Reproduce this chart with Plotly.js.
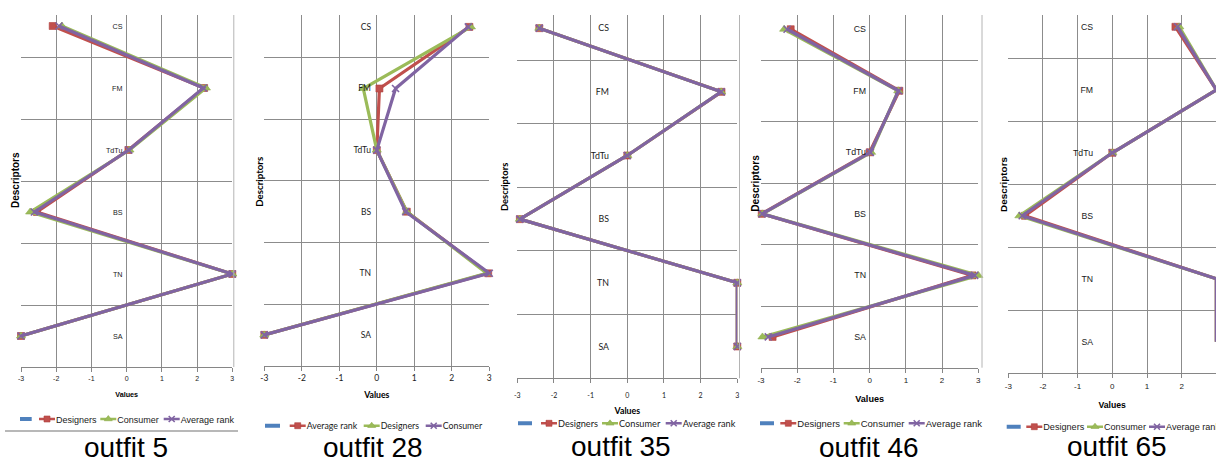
<!DOCTYPE html>
<html>
<head>
<meta charset="utf-8">
<script src="https://cdn.plot.ly/plotly-3.0.1.min.js"></script>
<style>html,body{margin:0;padding:0;background:#fff;}#chart{width:1216px;height:462px;}</style>
</head>
<body>
<div id="chart"></div>
<script>
// ---------- data ----------
const descriptors = ["CS", "FM", "TdTu", "BS", "TN", "SA"];
const outfitTitles = ["outfit 5", "outfit 28", "outfit 35", "outfit 46", "outfit 65"];
const xTickVals = [-3, -2, -1, 0, 1, 2, 3];
const axisTitleX = "Values";
const axisTitleY = "Descriptors";

// outfit 5 (red, green, purple)
const outfit5Names = ["Designers", "Consumer", "Average rank"];
const outfit5Designers = [-2.1, 2.2, 0.05, -2.55, 3, -3];
const outfit5Consumer = [-1.84, 2.25, 0.08, -2.74, 3, -3];
const outfit5AverageRank = [-1.92, 2.18, 0.06, -2.62, 3, -3];

// outfit 28 (red = Average rank, green = Designers, purple = Consumer)
const outfit28Names = ["Average rank", "Designers", "Consumer"];
const outfit28AverageRank = [2.47, 0.07, 0, 0.8, 2.97, -3];
const outfit28Designers = [2.51, -0.36, 0, 0.8, 2.93, -3];
const outfit28Consumer = [2.44, 0.5, 0, 0.77, 3, -3];

// outfit 35
const outfit35Names = ["Designers", "Consumer", "Average rank"];
const outfit35Designers = [-2.4, 2.57, 0, -2.93, 3, 3];
const outfit35Consumer = [-2.4, 2.56, 0, -2.93, 3, 3];
const outfit35AverageRank = [-2.4, 2.56, 0, -2.93, 3, 3];

// outfit 46
const outfit46Names = ["Designers", "Consumer", "Average rank"];
const outfit46Designers = [-2.18, 0.82, 0, -2.98, 2.84, -2.68];
const outfit46Consumer = [-2.36, 0.79, 0.04, -2.96, 3, -2.96];
const outfit46AverageRank = [-2.28, 0.8, 0.02, -2.97, 2.9, -2.8];

// outfit 65
const outfit65Names = ["Designers", "Consumer", "Average rank"];
const outfit65Designers = [1.82, 3, 0, -2.52, 3, 3];
const outfit65Consumer = [1.93, 3, 0, -2.68, 3, 3];
const outfit65AverageRank = [1.88, 3, 0, -2.6, 3, 3];

const panelNames = [outfit5Names, outfit28Names, outfit35Names, outfit46Names, outfit65Names];
const panelSeries = [
  [outfit5Designers, outfit5Consumer, outfit5AverageRank],
  [outfit28AverageRank, outfit28Designers, outfit28Consumer],
  [outfit35Designers, outfit35Consumer, outfit35AverageRank],
  [outfit46Designers, outfit46Consumer, outfit46AverageRank],
  [outfit65Designers, outfit65Consumer, outfit65AverageRank]
];

// ---------- styles / layout geometry ----------
const W = 1216, H = 462;
const fx = px => px / W;
const fy = py => 1 - py / H;
const ARIAL = '"Liberation Sans", Arial, sans-serif';
const CALIBRI = 'Lato, "Liberation Sans", sans-serif';
const GRID = '#8c8c8c';
const TXT = '#1a1a1a';
const BLUE = '#4F81BD';

const slotStyle = [
  {color: '#C0504D', symbol: 'square', size: 7, lineColor: '#B0403D', lw: 0.6},
  {color: '#9BBB59', symbol: 'triangle-up', size: 8, lineColor: '#8DAD4C', lw: 0.6},
  {color: '#8064A2', symbol: 'x-thin', size: 7, lineColor: '#8064A2', lw: 1.6}
];

// tickStand: integer tick-label standoff (px); valAdj: axis-title correction (px)
const geo = [
  {x0: 21, x1: 232.3, yB: 367, band: 62, top: 15, fam: ARIAL, tick: 7, cat: 7.2, catR: 120.5, val: 7.2, desc: 10,
   descX: 15.5, descY: 180.5, tickC: 379, valC: 394, legY: 419, leg: 9, blue: [20, 31.7], T: [56, 117.3, 180.7],
   capX: 126.3, capY: 447, xmax: 3, tickStand: 1, valAdj: 2.5, border: 233.8},
  {x0: 264.3, x1: 489.3, yB: 365.7, band: 61.6, top: 15, fam: CALIBRI, tick: 8.5, cat: 8.5, catR: 369, val: 8.7, desc: 9.7,
   descX: 259, descY: 181.7, tickC: 382, valC: 401, legY: 425.7, leg: 8.8, blue: [265, 280], T: [306.7, 380.7, 442.7],
   capX: 373, capY: 447.5, xmax: 3, tickStand: 0, valAdj: -1, border: null},
  {x0: 517.3, x1: 737.3, yB: 378.3, band: 63.66, top: 15, fam: CALIBRI, tick: 7, cat: 8.8, catR: 607, val: 8.8, desc: 9.4,
   descX: 504.5, descY: 187.5, tickC: 393, valC: 411, legY: 423.3, leg: 9.2, blue: [518, 532], T: [558, 619, 682.7],
   capX: 620.5, capY: 446, xmax: 3, tickStand: 6, valAdj: 0, border: 739.5},
  {x0: 761, x1: 978.3, yB: 367.7, band: 61.54, top: 15, fam: ARIAL, tick: 8, cat: 8.8, catR: 864, val: 9.1, desc: 10.2,
   descX: 755.5, descY: 183.3, tickC: 382.5, valC: 399, legY: 423.3, leg: 9.5, blue: [760, 774], T: [797.3, 860.7, 925.7],
   capX: 868.7, capY: 447.3, xmax: 3, tickStand: 1, valAdj: 3, border: 982},
  {x0: 1008.3, x1: 1216, yB: 373.3, band: 63, top: 15, fam: ARIAL, tick: 8, cat: 8.7, catR: 1091, val: 8.7, desc: 9.9,
   descX: 1002.7, descY: 184.2, tickC: 387, valC: 403, legY: 426.7, leg: 9.1, blue: [1006.7, 1020.7], T: [1043.3, 1104, 1166],
   capX: 1116.7, capY: 446.7, xmax: 2.99, tickStand: 1, valAdj: 4, border: null}
];

const traces = [];
const layout = {
  width: W, height: H,
  margin: {l: 0, r: 0, t: 0, b: 0, autoexpand: false},
  paper_bgcolor: '#fff', plot_bgcolor: 'rgba(0,0,0,0)',
  showlegend: true, hovermode: false,
  font: {family: ARIAL, color: TXT},
  annotations: [], shapes: []
};

let legendCount = 0;
function newLegend(xPx, yPx, font) {
  legendCount++;
  const id = legendCount === 1 ? 'legend' : 'legend' + legendCount;
  layout[id] = {
    x: fx(xPx), xanchor: 'left', y: fy(yPx), yanchor: 'middle',
    orientation: 'h', bgcolor: 'rgba(0,0,0,0)', borderwidth: 0, font: font,
    itemclick: false, itemdoubleclick: false
  };
  return id;
}

geo.forEach((g, k) => {
  const n = k + 1;
  const xa = 'x' + (n === 1 ? '' : n), ya = 'y' + (n === 1 ? '' : n);
  const xKey = 'xaxis' + (n === 1 ? '' : n), yKey = 'yaxis' + (n === 1 ? '' : n);
  const yTopIdx = 5.5 - (g.yB - g.top) / g.band;

  layout[xKey] = {
    domain: [fx(g.x0), Math.min(1, fx(g.x1))], anchor: ya, range: [-3, g.xmax],
    tickmode: 'array', tickvals: xTickVals, ticktext: xTickVals.map(String),
    ticks: 'outside', ticklen: 4, tickcolor: '#868686', tickwidth: 1,
    showline: true, linecolor: '#868686', linewidth: 1,
    showgrid: true, gridcolor: GRID, gridwidth: 1, zeroline: false,
    tickfont: {family: g.fam, size: g.tick, color: TXT},
    ticklabelstandoff: g.tickStand,
    title: {text: axisTitleX, font: {family: g.fam, size: g.val, color: '#000', weight: 'bold'},
            standoff: (g.valC - g.tickC) - g.tick / 2 - g.val / 2 + g.valAdj},
    fixedrange: true
  };
  layout[yKey] = {
    domain: [fy(g.yB), fy(g.top)], anchor: 'free', position: fx(g.catR + 2),
    type: 'category', categoryorder: 'array', categoryarray: descriptors,
    range: [5.5, yTopIdx], tickson: 'boundaries', ticks: '',
    showline: false, showgrid: true, gridcolor: GRID, gridwidth: 1, zeroline: false,
    tickfont: {family: g.fam, size: g.cat, color: TXT}, fixedrange: true
  };

  // data series
  panelSeries[k].forEach((vals, s) => {
    const st = slotStyle[s];
    traces.push({
      type: 'scatter', mode: 'lines+markers', xaxis: xa, yaxis: ya,
      x: vals, y: descriptors, name: panelNames[k][s], showlegend: false, cliponaxis: false,
      line: {color: st.color, width: 3.2},
      marker: {symbol: st.symbol, size: st.size, color: st.color, line: {color: st.lineColor, width: st.lw}}
    });
  });

  // legend: blue empty series key
  const legFont = {family: g.fam, size: g.leg, color: TXT};
  const blueId = newLegend(g.blue[0] - 5, g.legY, legFont);
  traces.push({
    type: 'scatter', mode: 'lines', xaxis: xa, yaxis: ya, x: [null], y: [null], name: '',
    showlegend: true, legend: blueId, hoverinfo: 'skip',
    line: {color: BLUE, width: 4, dash: (g.blue[1] - g.blue[0]).toFixed(1) + 'px,200px'}
  });
  // series keys + labels
  panelNames[k].forEach((nm, s) => {
    const st = slotStyle[s];
    const T = g.T[s];
    const keyId = newLegend(T - 29, g.legY, legFont);
    traces.push({
      type: 'scatter', mode: 'lines+markers', xaxis: xa, yaxis: ya, x: [null], y: [null], name: '',
      showlegend: true, legend: keyId, hoverinfo: 'skip',
      line: {color: st.color, width: 2.5, dash: '0px,7px,16px,200px'},
      marker: {symbol: st.symbol, size: st.size - 1, color: st.color, line: {color: st.lineColor, width: st.lw}}
    });
    const labId = newLegend(T - 40, g.legY, legFont);
    traces.push({
      type: 'scatter', mode: 'lines', xaxis: xa, yaxis: ya, x: [null], y: [null], name: nm,
      showlegend: true, legend: labId, hoverinfo: 'skip',
      line: {color: 'rgba(0,0,0,0)', width: 0}
    });
  });

  // y-axis title
  layout.annotations.push({
    xref: 'paper', yref: 'paper', x: fx(g.descX), y: fy(g.descY), xanchor: 'center', yanchor: 'middle',
    text: axisTitleY, textangle: -90, showarrow: false,
    font: {family: g.fam, size: g.desc, color: '#000', weight: 'bold'}
  });
  // caption
  layout.annotations.push({
    xref: 'paper', yref: 'paper', x: fx(g.capX), y: fy(g.capY), xanchor: 'center', yanchor: 'middle',
    text: outfitTitles[k], showarrow: false,
    font: {family: ARIAL, size: 28, color: '#000'}
  });
  // plot-area right border
  if (g.border) {
    layout.shapes.push({type: 'line', xref: 'paper', yref: 'paper', x0: fx(g.border), x1: fx(g.border),
      y0: fy(g.yB), y1: fy(g.top), line: {color: '#b4b4b4', width: 1}});
  }
});

// separator under first chart
layout.shapes.push({type: 'line', xref: 'paper', yref: 'paper', x0: fx(5), x1: fx(238), y0: fy(431), y1: fy(431),
  line: {color: '#a0a0a0', width: 1.5}});

Plotly.newPlot('chart', traces, layout, {staticPlot: true, displayModeBar: false});
</script>
</body>
</html>
